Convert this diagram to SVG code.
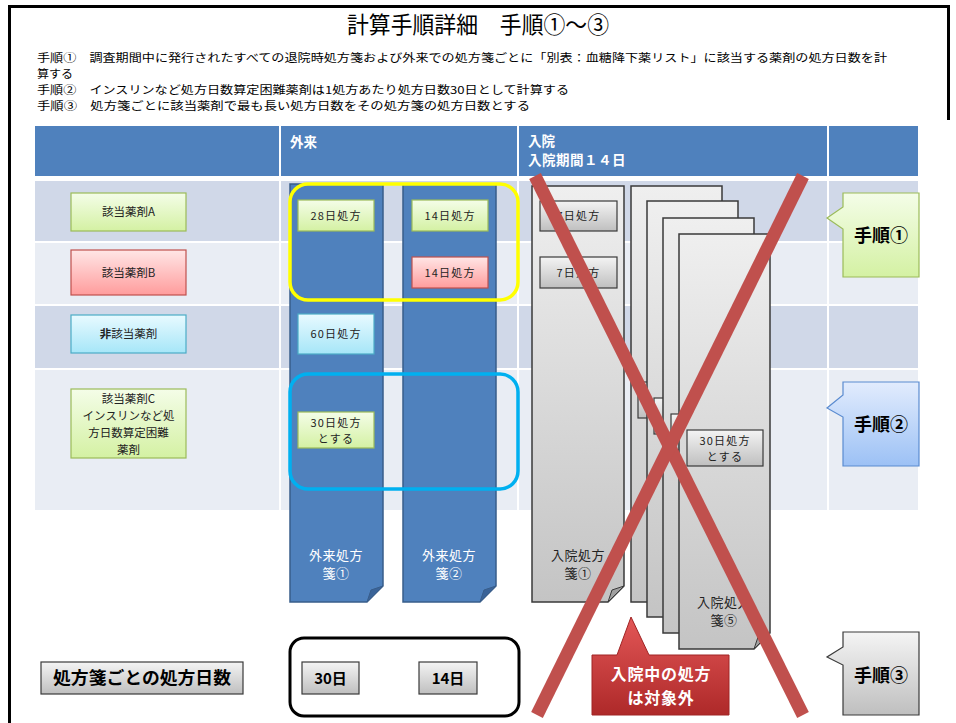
<svg xmlns="http://www.w3.org/2000/svg" width="956" height="723" viewBox="0 0 956 723">
<defs>
<linearGradient id="gGreen" x1="0" y1="0" x2="0" y2="1"><stop offset="0" stop-color="#F4FDE8"/><stop offset="1" stop-color="#D4F1A3"/></linearGradient>
<linearGradient id="gPink" x1="0" y1="0" x2="0" y2="1"><stop offset="0" stop-color="#FFE6E6"/><stop offset="1" stop-color="#FF9C9C"/></linearGradient>
<linearGradient id="gCyan" x1="0" y1="0" x2="0" y2="1"><stop offset="0" stop-color="#E8FAFF"/><stop offset="1" stop-color="#A6E6F8"/></linearGradient>
<linearGradient id="gGray" x1="0" y1="0" x2="0" y2="1"><stop offset="0" stop-color="#F4F4F4"/><stop offset="1" stop-color="#BFBFBF"/></linearGradient>
<linearGradient id="gDoc" x1="0" y1="0" x2="0" y2="1"><stop offset="0" stop-color="#EFEFEF"/><stop offset="1" stop-color="#C4C4C4"/></linearGradient>
<linearGradient id="gBlueC" x1="0" y1="0" x2="0" y2="1"><stop offset="0" stop-color="#E2ECFD"/><stop offset="1" stop-color="#9CC1F5"/></linearGradient>
<linearGradient id="gRed" x1="0" y1="0" x2="0" y2="1"><stop offset="0" stop-color="#E35757"/><stop offset="1" stop-color="#AE2929"/></linearGradient>
</defs>
<style>
text{font-family:"Noto Sans CJK JP","Noto Sans",sans-serif;}
.t{font-size:11px;fill:#000;}
.hd{font-size:13.5px;font-weight:bold;fill:#fff;}
.lb{font-size:11.5px;fill:#222;text-anchor:middle;}
.bx{font-size:11px;fill:#222;text-anchor:middle;letter-spacing:1.2px;}
.dl{font-size:13px;fill:#fff;text-anchor:middle;letter-spacing:0.5px;}
.dlk{font-size:13px;fill:#222;text-anchor:middle;letter-spacing:0.5px;}
.st{font-size:18px;font-weight:bold;fill:#000;text-anchor:middle;}
.bb{font-size:15px;font-weight:bold;fill:#000;text-anchor:middle;}
.rn{font-size:16px;font-weight:bold;fill:#fff;text-anchor:middle;letter-spacing:0.8px;}
.green{fill:url(#gGreen);stroke:#9BBB59;stroke-width:1.2;}
.pink{fill:url(#gPink);stroke:#C0504D;stroke-width:1.2;}
.cyan{fill:url(#gCyan);stroke:#4BACC6;stroke-width:1.2;}
.gray{fill:url(#gGray);stroke:#3A3A3A;stroke-width:1.2;}
.bdoc{fill:#4F81BD;stroke:#385D8A;stroke-width:1.5;}
.gdoc{fill:url(#gDoc);stroke:#3A3A3A;stroke-width:1.5;}
.fold-b{fill:#3A6398;stroke:#385D8A;stroke-width:1;}
.fold-g{fill:#A0A0A0;stroke:#3A3A3A;stroke-width:1;}
.cross{stroke:#C0504D;stroke-width:13;stroke-linecap:butt;}
</style>

<path id="frame" d="M9.5,723 V6.5 H948.5 V120" fill="none" stroke="#000" stroke-width="3"/>

<g id="title">
<text x="478" y="33" font-size="23" text-anchor="middle" textLength="262" lengthAdjust="spacingAndGlyphs">計算手順詳細　手順①～③</text>
</g>
<g id="steps">
<text class="t" x="37" y="62" textLength="850" lengthAdjust="spacingAndGlyphs">手順①　調査期間中に発行されたすべての退院時処方箋および外来での処方箋ごとに「別表：血糖降下薬リスト」に該当する薬剤の処方日数を計</text>
<text class="t" x="37" y="78" textLength="36" lengthAdjust="spacingAndGlyphs">算する</text>
<text class="t" x="37" y="94" textLength="532" lengthAdjust="spacingAndGlyphs">手順②　インスリンなど処方日数算定困難薬剤は1処方あたり処方日数30日として計算する</text>
<text class="t" x="37" y="110" textLength="493" lengthAdjust="spacingAndGlyphs">手順③　処方箋ごとに該当薬剤で最も長い処方日数をその処方箋の処方日数とする</text>
</g>

<g id="table">
<rect x="35" y="126" width="883" height="50" fill="#4F81BD"/>
<rect x="35" y="181" width="883" height="60" fill="#D0D8E8"/>
<rect x="35" y="243" width="883" height="61" fill="#E9EDF4"/>
<rect x="35" y="306" width="883" height="62" fill="#D0D8E8"/>
<rect x="35" y="370" width="883" height="140" fill="#E9EDF4"/>
<g fill="#fff">
<rect x="279" y="126" width="2" height="384"/>
<rect x="517" y="126" width="2" height="384"/>
<rect x="827" y="126" width="2" height="384"/>
</g>
<text class="hd" x="290" y="147">外来</text>
<text class="hd" x="528" y="146">入院</text>
<text class="hd" x="528" y="165" letter-spacing="0.5">入院期間１４日</text>
</g>

<g id="label-a"><rect class="green" x="71" y="193" width="115" height="38"/><text class="lb" x="128.5" y="216">該当薬剤A</text></g>
<g id="label-b"><rect class="pink" x="71" y="250" width="115" height="45"/><text class="lb" x="128.5" y="277">該当薬剤B</text></g>
<g id="label-non"><rect class="cyan" x="71" y="315" width="115" height="38"/><text class="lb" x="128.5" y="338"><tspan font-weight="bold">非</tspan>該当薬剤</text></g>
<g id="label-c"><rect class="green" x="71" y="389" width="115" height="69"/>
<text class="lb" x="128.5" y="403">該当薬剤C</text>
<text class="lb" x="128.5" y="420">インスリンなど処</text>
<text class="lb" x="128.5" y="437">方日数算定困難</text>
<text class="lb" x="128.5" y="454">薬剤</text></g>

<g id="out-doc1">
<path class="bdoc" d="M290,184 H383 V586 L367,602 H290 Z"/>
<path class="fold-b" d="M367,602 L371,590 L383,586 Z"/>
<rect class="green" x="298" y="200" width="76" height="31"/><text class="bx" x="336" y="220">28日処方</text>
<rect class="cyan" x="298" y="314" width="76" height="40"/><text class="bx" x="336" y="338">60日処方</text>
<rect class="green" x="298" y="412" width="76" height="36"/><text class="bx" x="336" y="427">30日処方</text><text class="bx" x="336" y="443">とする</text>
<text class="dl" x="336" y="560">外来処方</text><text class="dl" x="336" y="578">箋①</text>
</g>
<g id="out-doc2">
<path class="bdoc" d="M403,184 H496 V586 L480,602 H403 Z"/>
<path class="fold-b" d="M480,602 L484,590 L496,586 Z"/>
<rect class="green" x="412" y="200" width="76" height="31"/><text class="bx" x="450" y="220">14日処方</text>
<rect class="pink" x="412" y="257" width="76" height="31"/><text class="bx" x="450" y="277">14日処方</text>
<text class="dl" x="449" y="560">外来処方</text><text class="dl" x="449" y="578">箋②</text>
</g>

<g id="step1-highlight"><rect x="290" y="184" width="228" height="116" rx="18" fill="none" stroke="#FFFF00" stroke-width="3.5"/></g>
<g id="step2-highlight"><rect x="290" y="374" width="228" height="115" rx="18" fill="none" stroke="#00B0F0" stroke-width="3.5"/></g>

<g id="in-doc1">
<path class="gdoc" d="M532,186 H624 V586 L608,602 H532 Z"/>
<path class="fold-g" d="M608,602 L612,590 L624,586 Z"/>
<rect class="gray" x="540" y="201" width="77" height="30"/><text class="bx" x="578.5" y="220">7日処方</text>
<rect class="gray" x="540" y="257" width="77" height="31"/><text class="bx" x="578.5" y="277">7日処方</text>
<text class="dlk" x="578" y="560">入院処方</text><text class="dlk" x="578" y="578">箋①</text>
</g>
<g id="in-doc2">
<path class="gdoc" d="M631,186 H722 V586 L706,602 H631 Z"/>
<rect class="gray" x="638" y="382" width="77" height="36"/>
</g>
<g id="in-doc3">
<path class="gdoc" d="M647,201 H738 V601 L722,617 H647 Z"/>
<rect class="gray" x="654" y="398" width="77" height="36"/>
</g>
<g id="in-doc4">
<path class="gdoc" d="M663,218 H754 V617 L738,633 H663 Z"/>
<rect class="gray" x="671" y="414" width="77" height="36"/>
</g>
<g id="in-doc5">
<path class="gdoc" d="M679,234 H770 V633 L754,649 H679 Z"/>
<path class="fold-g" d="M754,649 L758,637 L770,633 Z"/>
<rect class="gray" x="687" y="430" width="76" height="36"/><text class="bx" x="725" y="445">30日処方</text><text class="bx" x="725" y="461">とする</text>
<text class="dlk" x="724" y="607">入院処方</text><text class="dlk" x="724" y="625">箋⑤</text>
</g>

<g id="cross">
<line class="cross" x1="535" y1="176" x2="803" y2="715"/>
<line class="cross" x1="803" y1="176" x2="537" y2="715"/>
</g>

<g id="callout-1"><path d="M843,193 H919 V277 H843 V229 L827,218 L843,207 Z" fill="url(#gGreen)" stroke="#9BBB59" stroke-width="1.2"/><text class="st" x="881" y="242">手順①</text></g>
<g id="callout-2"><path d="M843,382 H919 V466 H843 V417 L827,408 L843,395 Z" fill="url(#gBlueC)" stroke="#5A8BD0" stroke-width="1.2"/><text class="st" x="881" y="431">手順②</text></g>
<g id="callout-3"><path d="M843,632 H919 V715 H843 V665 L827,657 L843,647 Z" fill="url(#gGray)" stroke="#3A3A3A" stroke-width="1.2"/><text class="st" x="881" y="682">手順③</text></g>

<g id="inpatient-note"><path d="M592,655 H617 L631,617 L649,655 H729 V715 H592 Z" fill="url(#gRed)" stroke="#A02424" stroke-width="1"/>
<text class="rn" x="661" y="680">入院中の処方</text>
<text class="rn" x="661" y="704">は対象外</text></g>

<g id="days-label"><rect class="gray" x="41" y="662" width="202" height="32"/><text x="142" y="684" font-size="17" font-weight="bold" text-anchor="middle" textLength="178" lengthAdjust="spacingAndGlyphs">処方箋ごとの処方日数</text></g>
<g id="days-group"><rect x="290" y="638" width="229" height="78" rx="14" fill="#fff" stroke="#000" stroke-width="3"/>
<rect class="gray" x="302" y="662" width="57" height="32"/><text class="bb" x="330.5" y="684">30日</text>
<rect class="gray" x="419" y="662" width="58" height="32"/><text class="bb" x="448" y="684">14日</text></g>
<g id="connectors"/>
</svg>
